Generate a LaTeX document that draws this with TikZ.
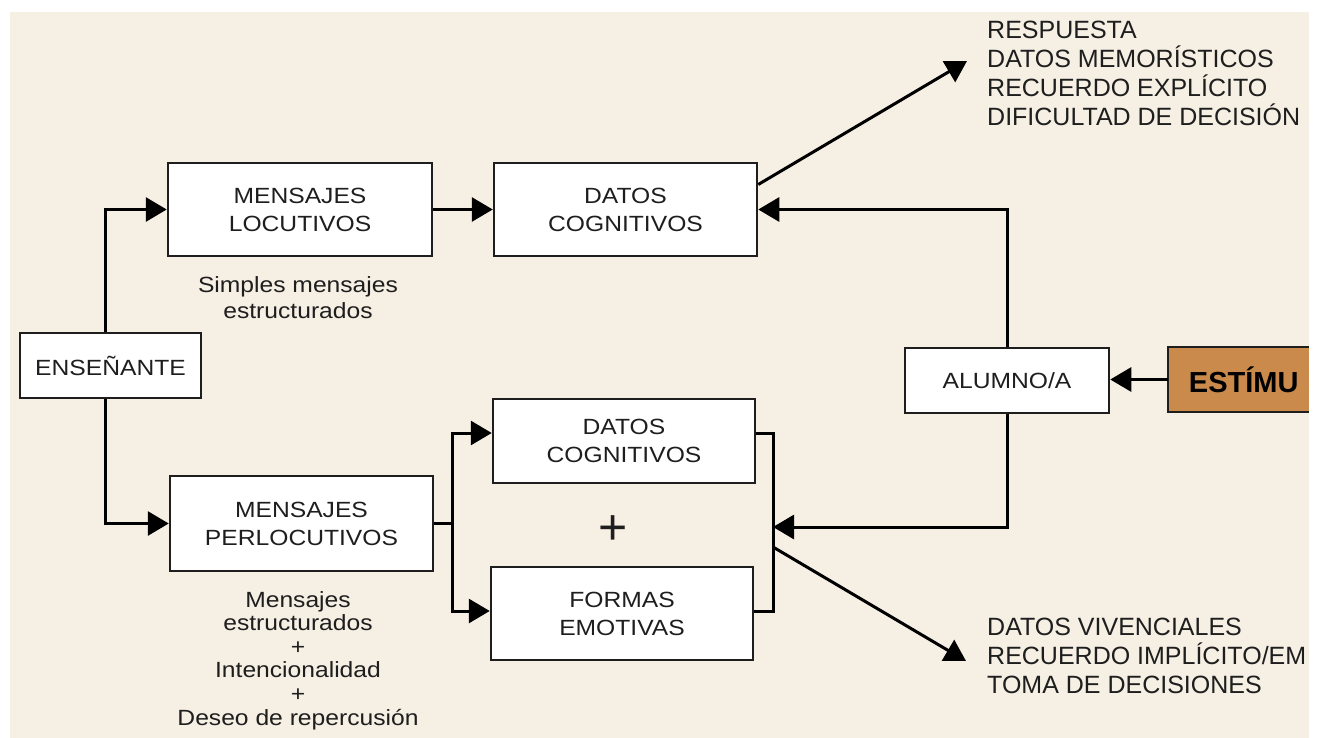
\documentclass[tikz,border=0pt]{standalone}
\usepackage{fontspec}
\setmainfont{Liberation Sans}
\newfontfamily\boxfont[FakeStretch=1.12]{Liberation Sans}
\usetikzlibrary{arrows.meta}
\usetikzlibrary{calc}
\definecolor{fondo}{RGB}{246,239,228}
\definecolor{naranja}{RGB}{201,138,75}
\definecolor{tinta}{RGB}{30,30,30}

\begin{document}
\begin{tikzpicture}[x=1pt,y=-1pt,
	caja/.style={draw=tinta, line width=2.5pt, fill=white, inner sep=0pt, align=center, text=tinta, font=\boxfont\fontsize{22}{28}\selectfont},
	nota/.style={inner sep=0pt, align=center, text=tinta, font=\boxfont\fontsize{22}{26}\selectfont},
	salida/.style={inner sep=0pt, align=left, anchor=north west, text=tinta, font=\fontsize{25}{29}\selectfont},
	linea/.style={draw=black, line width=3pt},
	flecha/.style={linea, -{Triangle[length=21pt,width=24pt]}}]
	\useasboundingbox (0,0) rectangle (1319,738);
	\fill[fondo] (10,12) rectangle (1309,738);

	\node[caja, minimum width=181pt, minimum height=65pt] (ens) at (110.5,365.5) {ENSEÑANTE};
	\node[caja, minimum width=264pt, minimum height=93pt] (loc) at (300,209.5) {MENSAJES\\LOCUTIVOS};
	\node[caja, minimum width=263pt, minimum height=93pt] (dat1) at (625.5,209.5) {DATOS\\COGNITIVOS};
	\node[caja, minimum width=263pt, minimum height=95pt] (perl) at (301.5,523.5) {MENSAJES\\PERLOCUTIVOS};
	\node[caja, minimum width=262pt, minimum height=84pt] (dat2) at (624,441) {DATOS\\COGNITIVOS};
	\node[caja, minimum width=262pt, minimum height=93pt] (form) at (622,613.5) {FORMAS\\EMOTIVAS};
	\node[caja, minimum width=204pt, minimum height=65pt] (alum) at (1007,380.5) {ALUMNO/A};
	\node[fill=naranja, minimum height=65pt, text width=120pt, inner xsep=10.5pt, inner ysep=0pt, align=right, text=black, font=\bfseries\fontsize{29}{29}\selectfont] (est) at (1238.5,379.5) {ESTÍMU};
	\draw[tinta, line width=2.5pt] (est.north east) -- (est.north west) -- (est.south west) -- (est.south east);

	\node[text=tinta, inner sep=0pt, font=\fontsize{50}{50}\selectfont] (mas) at (613,530) {+};
	\node[nota, anchor=north] (simples) at (298,276) {Simples mensajes\\estructurados};
	\node[nota, anchor=north, font=\boxfont\fontsize{22}{23.6}\selectfont] (intenc) at (298,591) {Mensajes\\estructurados\\+\\Intencionalidad\\+\\Deseo de repercusión};
	\node[salida] (resp) at (987,21) {RESPUESTA\\DATOS MEMORÍSTICOS\\RECUERDO EXPLÍCITO\\DIFICULTAD DE DECISIÓN};
	\node[salida] (viv) at (987,618) {DATOS VIVENCIALES\\RECUERDO IMPLÍCITO/EM\\TOMA DE DECISIONES};

	\coordinate (horq) at (452,523.5);
	\coordinate (llave) at (773,527);
	\coordinate (sal1) at (967,61);
	\coordinate (sal2) at (966,661);

	\draw[flecha] ([xshift=-5.5pt]ens.north) |- (loc.west);
	\draw[flecha] ([xshift=-5.5pt]ens.south) |- (perl.west);
	\draw[flecha] (loc) -- (dat1);
	\draw[linea] (perl.east) -- (horq);
	\draw[flecha] (horq) |- ([yshift=8pt]dat2.west);
	\draw[flecha] (horq) |- ([yshift=2.5pt]form.west);
	\draw[linea] ([yshift=8pt]dat2.east) -| (llave) |- ([yshift=2.5pt]form.east);
	\draw[flecha] (alum.north) |- (dat1.east);
	\draw[flecha] (alum.south) |- (llave);
	\draw[flecha] (est.west) -- (est.west -| alum.east);
	\draw[flecha] ([yshift=25pt]dat1.east) -- (sal1);
	\draw[flecha] ([yshift=-20pt]llave) -- (sal2);
\end{tikzpicture}
\end{document}
